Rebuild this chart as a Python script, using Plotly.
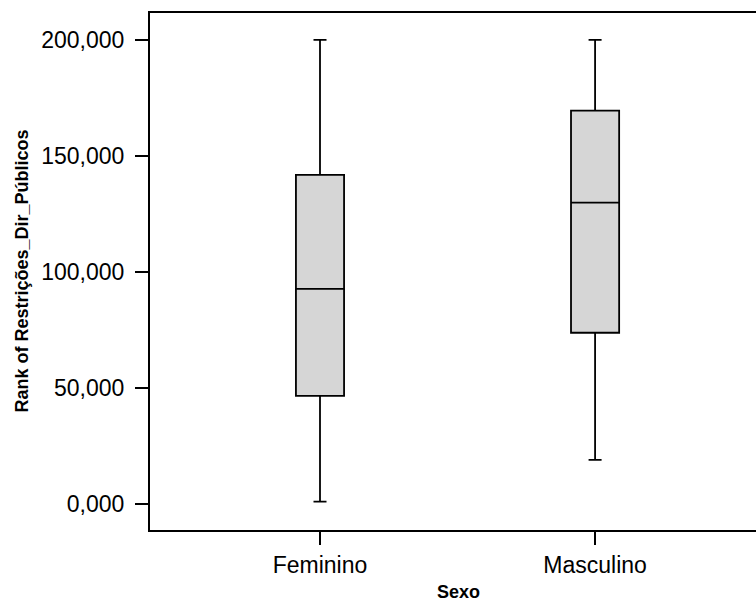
import plotly.graph_objects as go

categories = ["Feminino", "Masculino"]
lower = [1.0, 19.0]
q1 = [46.6, 73.8]
median = [92.7, 129.9]
q3 = [141.8, 169.5]
upper = [200.0, 200.0]

ytick_vals = [0, 50, 100, 150, 200]
ytick_text = ["0,000", "50,000", "100,000", "150,000", "200,000"]

FONT = "Liberation Sans, Arial, sans-serif"

fig = go.Figure()

fig.add_trace(go.Box(
    x=categories,
    q1=q1,
    median=median,
    q3=q3,
    lowerfence=lower,
    upperfence=upper,
    width=0.175,
    whiskerwidth=0.27,
    fillcolor="#d6d6d6",
    line=dict(color="black", width=1.8),
    boxpoints=False,
    showlegend=False,
))

fig.update_layout(
    width=756,
    height=605,
    margin=dict(l=150, r=0, t=13, b=75),
    paper_bgcolor="white",
    plot_bgcolor="white",
    font=dict(family=FONT, color="black"),
    xaxis=dict(
        type="category",
        range=[-0.618, 1.585],
        showgrid=False,
        zeroline=False,
        showline=True,
        linecolor="black",
        linewidth=2,
        mirror=True,
        ticks="outside",
        ticklen=13,
        tickwidth=2,
        tickcolor="black",
        tickfont=dict(size=23, family=FONT),
    ),
    yaxis=dict(
        range=[-11.2, 211.6],
        tickvals=ytick_vals,
        ticktext=ytick_text,
        showgrid=False,
        zeroline=False,
        showline=True,
        linecolor="black",
        linewidth=2,
        ticks="outside",
        ticklen=13,
        tickwidth=2,
        tickcolor="black",
        ticklabelstandoff=6,
        tickfont=dict(size=23, family=FONT),
    ),
    annotations=[
        dict(text="<b>Rank of Restrições_Dir_Públicos</b>", xref="paper", yref="paper",
             x=(21 - 150) / 606, xanchor="center", y=0.5, yanchor="middle",
             textangle=-90, showarrow=False,
             font=dict(size=18, family=FONT)),
        dict(text="<b>Sexo</b>", xref="paper", yref="paper",
             x=(458 - 150) / 606, xanchor="center", y=-(604 - 530) / 517, yanchor="bottom",
             showarrow=False,
             font=dict(size=18, family=FONT)),
    ],
)

fig.write_html("out.html", config={"displayModeBar": False},
               post_script="document.body.style.margin='0';")
